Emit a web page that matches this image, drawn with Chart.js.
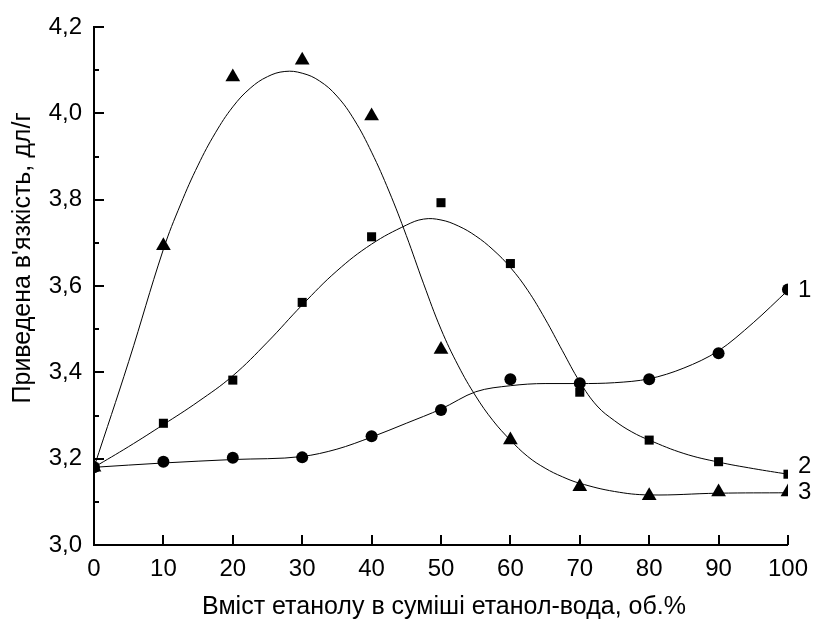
<!DOCTYPE html>
<html>
<head>
<meta charset="utf-8">
<script src="https://cdn.jsdelivr.net/npm/chart.js@4/dist/chart.umd.min.js"></script>
<style>
  html, body { margin: 0; padding: 0; background: #fff; }
  #wrap { width: 818px; height: 622px; }
</style>
</head>
<body>
<div id="wrap"><canvas id="viscChart" width="818" height="622"></canvas></div>
<script>
// measured points: ethanol content (vol.%) vs reduced viscosity (dl/g)
const ethanol = [0, 10, 20, 30, 40, 50, 60, 70, 80, 90, 100];
const visc1 = [3.18, 3.193, 3.202, 3.203, 3.252, 3.313, 3.384, 3.375, 3.384, 3.444, 3.592];
const visc2 = [3.18, 3.282, 3.382, 3.562, 3.714, 3.793, 3.652, 3.354, 3.243, 3.193, 3.164];
const visc3 = [3.18, 3.693, 4.084, 4.123, 3.994, 3.453, 3.243, 3.135, 3.114, 3.123, 3.123];

// fitted curves read along their paths
const fit1X = [0, 10, 20, 30, 35, 40, 45, 50, 55, 60, 65, 70, 75, 80, 85, 90, 95, 100];
const fit1Y = [3.18, 3.19, 3.198, 3.205, 3.222, 3.25, 3.282, 3.315, 3.355, 3.369, 3.374, 3.374, 3.376, 3.385, 3.41, 3.45, 3.515, 3.59];
const fit2X = [0, 5, 10, 15, 20, 25, 30, 35, 40, 45, 47.5, 50, 52.5, 55, 57.5, 60, 62.5, 65, 67.5, 70, 72.5, 75, 77.5, 80, 85, 90, 95, 100];
const fit2Y = [3.18, 3.228, 3.279, 3.332, 3.392, 3.47, 3.556, 3.635, 3.697, 3.741, 3.755, 3.753, 3.739, 3.716, 3.684, 3.643, 3.59, 3.524, 3.45, 3.378, 3.322, 3.288, 3.262, 3.243, 3.212, 3.192, 3.177, 3.164];
const fit3X = [0, 5, 10, 12.5, 15, 17.5, 20, 22.5, 25, 27.5, 30, 32.5, 35, 37.5, 40, 42.5, 45, 47.5, 50, 52.5, 55, 57.5, 60, 62.5, 65, 67.5, 70, 75, 80, 90, 100];
const fit3Y = [3.18, 3.425, 3.685, 3.79, 3.88, 3.955, 4.015, 4.058, 4.085, 4.097, 4.093, 4.075, 4.04, 3.985, 3.91, 3.82, 3.717, 3.605, 3.50, 3.415, 3.345, 3.288, 3.243, 3.205, 3.178, 3.158, 3.143, 3.124, 3.116, 3.12, 3.121];

const curveNames = ['1', '2', '3'];
const yTicks = [3.0, 3.2, 3.4, 3.6, 3.8, 4.0, 4.2];
const xTitle = 'Вміст етанолу в суміші етанол-вода, об.%';
const yTitle = "Приведена в'язкість, дл/г";

const FONT = '"Liberation Sans", Arial, sans-serif';

function pts(xs, ys) {
  return xs.map((x, i) => ({ x: x, y: ys[i] }));
}

function markerSet(ys, style, radius) {
  return {
    data: pts(ethanol, ys),
    showLine: false,
    pointStyle: style,
    pointRadius: radius,
    pointBackgroundColor: '#000',
    pointBorderColor: '#000',
    pointBorderWidth: 0,
    clip: 0
  };
}

function curveSet(xs, ys, mode) {
  return {
    data: pts(xs, ys),
    showLine: true,
    borderColor: '#000',
    borderWidth: 1,
    pointRadius: 0,
    tension: 0.4,
    cubicInterpolationMode: mode,
    fill: false,
    clip: 0
  };
}

// inward tick marks, axis titles and curve numbers
const axisDecor = {
  id: 'axisDecor',
  afterDatasetsDraw(chart) {
    const ctx = chart.ctx;
    const area = chart.chartArea;
    const xs = chart.scales.x, ys = chart.scales.y;
    ctx.save();
    ctx.strokeStyle = '#000';
    ctx.lineWidth = 2;
    ctx.beginPath();
    for (let v = 30; v <= 42; v++) {
      const py = Math.round(ys.getPixelForValue(v / 10));
      const len = v % 2 === 0 ? 10 : 5;
      ctx.moveTo(area.left, py);
      ctx.lineTo(area.left + len, py);
    }
    for (let v = 0; v <= 100; v += 10) {
      const px = Math.round(xs.getPixelForValue(v));
      ctx.moveTo(px, area.bottom);
      ctx.lineTo(px, area.bottom - 10);
    }
    ctx.stroke();

    ctx.fillStyle = '#000';
    ctx.textBaseline = 'middle';
    ctx.font = '24px ' + FONT;
    const ends = [fit1Y[fit1Y.length - 1], fit2Y[fit2Y.length - 1] + 0.017, fit3Y[fit3Y.length - 1]];
    curveNames.forEach((name, i) => {
      ctx.fillText(name, xs.getPixelForValue(100) + 10, ys.getPixelForValue(ends[i]));
    });

    ctx.textAlign = 'center';
    ctx.font = '25px ' + FONT;
    ctx.fillText(xTitle, 444, 607);

    ctx.translate(23, 258);
    ctx.rotate(-Math.PI / 2);
    ctx.fillText(yTitle, 0, 0);
    ctx.restore();
  }
};

new Chart(document.getElementById('viscChart'), {
  type: 'scatter',
  data: {
    datasets: [
      curveSet(fit1X, fit1Y, 'monotone'),
      curveSet(fit2X, fit2Y, 'default'),
      curveSet(fit3X, fit3Y, 'default'),
      markerSet(visc1, 'circle', 6),
      markerSet(visc2, 'rect', 6.4),
      markerSet(visc3, 'triangle', 8.5)
    ]
  },
  options: {
    responsive: false,
    animation: false,
    devicePixelRatio: 1,
    layout: { padding: { top: 27, right: 22, left: 0, bottom: 0 } },
    plugins: {
      legend: { display: false },
      tooltip: { enabled: false }
    },
    scales: {
      x: {
        type: 'linear',
        min: 0,
        max: 100,
        afterFit(scale) { scale.height = 77; },
        border: { display: true, color: '#000', width: 2 },
        grid: { drawOnChartArea: false, drawTicks: false },
        ticks: {
          stepSize: 10,
          padding: 10,
          color: '#000',
          font: { family: FONT, size: 24 }
        }
      },
      y: {
        type: 'linear',
        min: 3.0,
        max: 4.2,
        afterFit(scale) { scale.width = 94; },
        afterBuildTicks(scale) {
          scale.ticks = yTicks.map(v => ({ value: v }));
        },
        border: { display: true, color: '#000', width: 2 },
        grid: { drawOnChartArea: false, drawTicks: false },
        ticks: {
          padding: 12,
          color: '#000',
          font: { family: FONT, size: 24 },
          callback: v => v.toFixed(1).replace('.', ',')
        }
      }
    }
  },
  plugins: [axisDecor]
});
</script>
</body>
</html>
